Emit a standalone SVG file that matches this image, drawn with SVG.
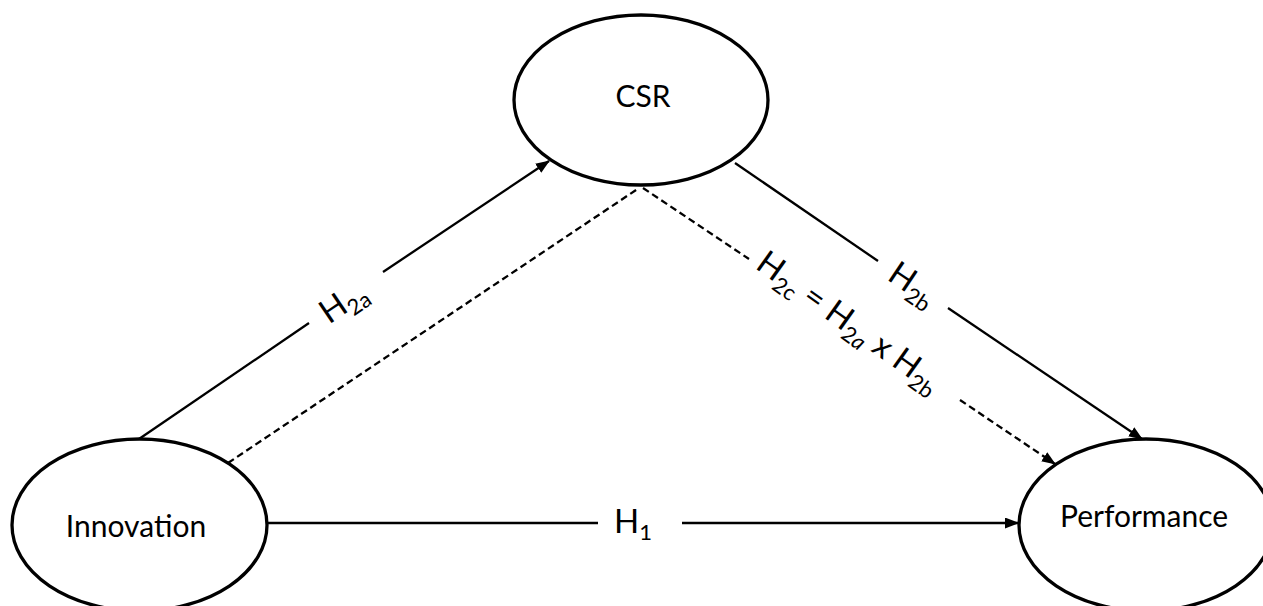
<svg xmlns="http://www.w3.org/2000/svg" width="1263" height="606" viewBox="0 0 1263 606">
<style>
.node{fill:#fff;stroke:#000;stroke-width:3.3}
.lbl{font-family:Lato,"Liberation Sans",sans-serif;font-size:30px;fill:#000;text-anchor:middle}
.h{font-family:Lato,"Liberation Sans",sans-serif;font-size:33px;fill:#000;text-anchor:middle}
.sub{font-size:22px}
.ln{stroke:#000;stroke-width:2.3;fill:none}
.dash{stroke-dasharray:7 4}
</style>
<defs>
<marker id="arr" markerUnits="userSpaceOnUse" markerWidth="15" markerHeight="12" refX="13" refY="5.5" orient="auto">
<path d="M0,0 L14,5.5 L0,11 Z" fill="#000"/>
</marker>
</defs>
<g id="connectors">
<line class="ln" x1="139" y1="439" x2="309" y2="323"/>
<line class="ln" x1="383" y1="272" x2="549" y2="161" marker-end="url(#arr)"/>
<line class="ln dash" x1="228" y1="463" x2="639" y2="188"/>
<line class="ln dash" x1="643" y1="188" x2="749" y2="259"/>
<line class="ln dash" x1="960" y1="400" x2="1055" y2="464" marker-end="url(#arr)"/>
<line class="ln" x1="735" y1="163" x2="878" y2="261"/>
<line class="ln" x1="948" y1="308" x2="1142" y2="439" marker-end="url(#arr)"/>
<line class="ln" x1="267" y1="523" x2="598" y2="523"/>
<line class="ln" x1="682" y1="523" x2="1018" y2="523" marker-end="url(#arr)"/>
<g transform="translate(343,302) rotate(-34.1)"><text class="h" x="0" y="11">H<tspan class="sub" dy="7">2a</tspan></text></g>
<g transform="translate(913,284) rotate(34.1)"><text class="h" x="0" y="11">H<tspan class="sub" dy="7">2b</tspan></text></g>
<g transform="translate(849,322) rotate(35.5)"><text class="h" x="0" y="11">H<tspan class="sub" dy="7">2c</tspan><tspan dy="-7"> = H</tspan><tspan class="sub" dy="7">2<tspan font-style="italic">a</tspan></tspan><tspan dy="-7"> x H</tspan><tspan class="sub" dy="7">2b</tspan></text></g>
<text class="h" x="633" y="533">H<tspan class="sub" dy="7">1</tspan></text>
</g>
<g id="csr"><ellipse class="node" cx="641" cy="100" rx="127" ry="85"/><text class="lbl" x="643" y="107">CSR</text></g>
<g id="innovation"><ellipse class="node" cx="139.5" cy="525" rx="127.5" ry="86"/><text class="lbl" x="136" y="537">Innovation</text></g>
<g id="performance"><ellipse class="node" cx="1146" cy="525" rx="127" ry="86"/><text class="lbl" x="1144" y="527">Performance</text></g>
</svg>
